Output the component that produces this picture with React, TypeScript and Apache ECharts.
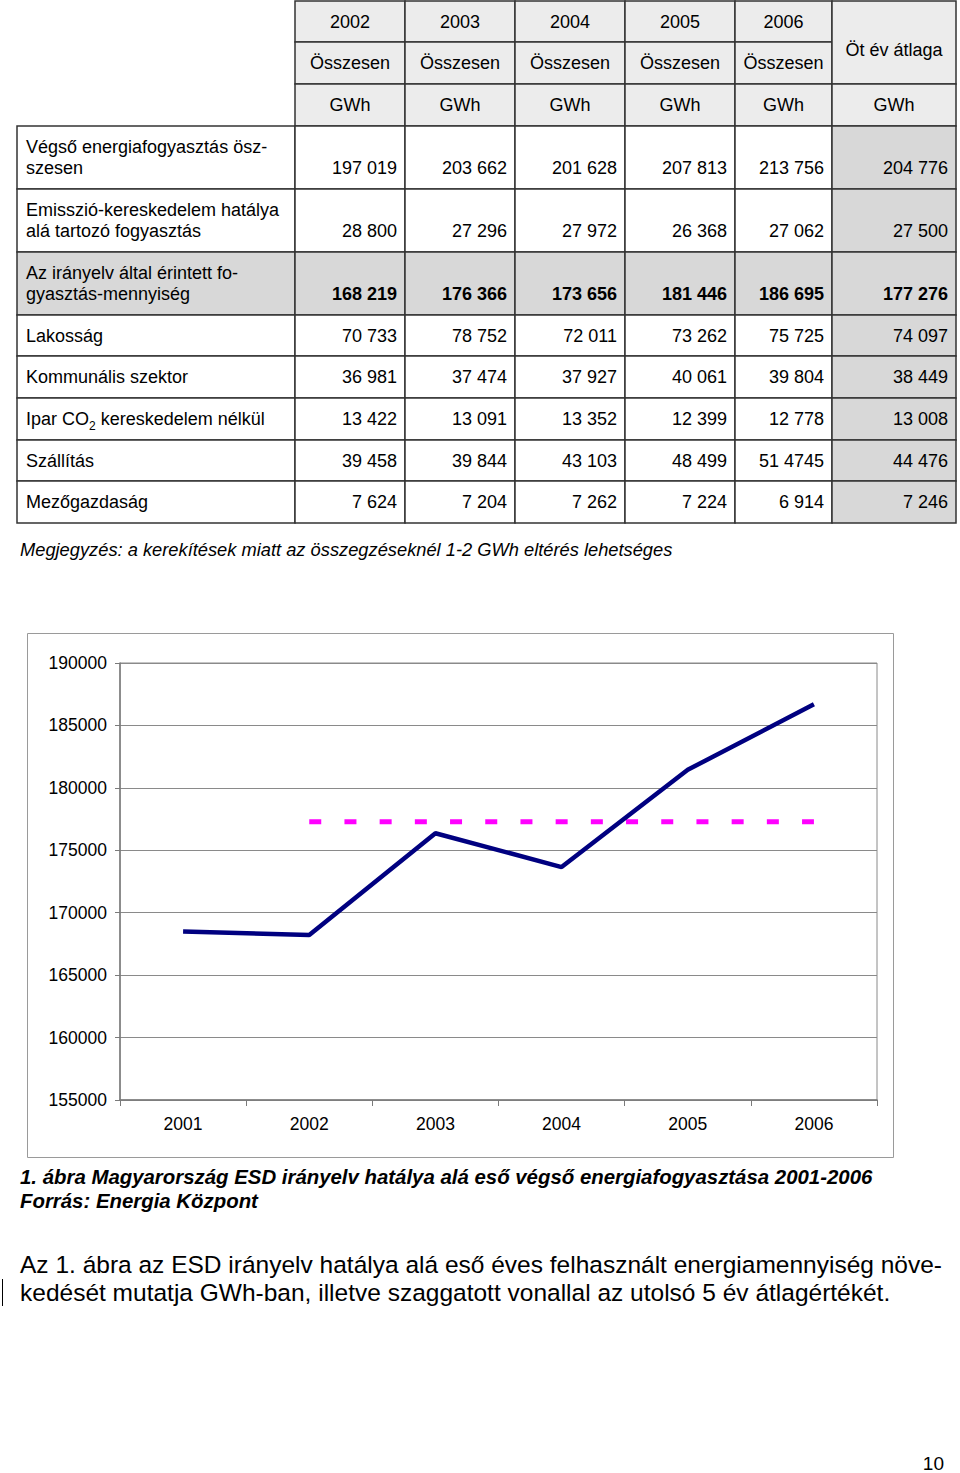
import React, { useEffect, useRef } from 'react';
import * as echarts from 'echarts';

// ---------- DATA ----------
const tableYears = ['2002', '2003', '2004', '2005', '2006'];
const headerTotal = 'Összesen';
const headerUnit = 'GWh';
const averageHeader = 'Öt év átlaga';

const rowLabels: string[][] = [
  ['Végső energiafogyasztás ösz-', 'szesen'],
  ['Emisszió-kereskedelem hatálya', 'alá tartozó fogyasztás'],
  ['Az irányelv által érintett fo-', 'gyasztás-mennyiség'],
  ['Lakosság'],
  ['Kommunális szektor'],
  ['Ipar CO{sub|2} kereskedelem nélkül'],
  ['Szállítás'],
  ['Mezőgazdaság'],
];

const rowValues: string[][] = [
  ['197 019', '203 662', '201 628', '207 813', '213 756', '204 776'],
  ['28 800', '27 296', '27 972', '26 368', '27 062', '27 500'],
  ['168 219', '176 366', '173 656', '181 446', '186 695', '177 276'],
  ['70 733', '78 752', '72 011', '73 262', '75 725', '74 097'],
  ['36 981', '37 474', '37 927', '40 061', '39 804', '38 449'],
  ['13 422', '13 091', '13 352', '12 399', '12 778', '13 008'],
  ['39 458', '39 844', '43 103', '48 499', '51 4745', '44 476'],
  ['7 624', '7 204', '7 262', '7 224', '6 914', '7 246'],
];
const highlightedRow = 2;

const noteText = 'Megjegyzés: a kerekítések miatt az összegzéseknél 1-2 GWh eltérés lehetséges';

const chartYears = ['2001', '2002', '2003', '2004', '2005', '2006'];
const consumption = [168500, 168219, 176366, 173656, 181446, 186695];
const fiveYearAverage = [null, 177276, 177276, 177276, 177276, 177276];

const captionLines = [
  '1. ábra Magyarország ESD irányelv hatálya alá eső végső energiafogyasztása 2001-2006',
  'Forrás: Energia Központ',
];
const paragraphLines = [
  'Az 1. ábra az ESD irányelv hatálya alá eső éves felhasznált energiamennyiség növe-',
  'kedését mutatja GWh-ban, illetve szaggatott vonallal az utolsó 5 év átlagértékét.',
];
const pageNumber = '10';

// ---------- LAYOUT ----------
const FONT = '"Liberation Sans", Arial, Helvetica, sans-serif';
const colX = [17, 295, 405, 515, 625, 735, 832, 956];
const headerY = [1, 42, 84, 126];
const rowY = [126, 189, 252, 315, 356, 398, 440, 481, 523];
const BORDER = '#333333';
const HEADER_BG = '#ececec';
const GRAY_BG = '#d8d8d8';

function buildTable(): any[] {
  const els: any[] = [];
  const cell = (x0: number, y0: number, x1: number, y1: number, fill: string) => {
    els.push({
      type: 'rect',
      shape: { x: x0, y: y0, width: x1 - x0, height: y1 - y0 },
      style: { fill, stroke: BORDER, lineWidth: 1.5 },
      silent: true,
    });
  };
  const txt = (text: string, x: number, y: number, align: string, opts: any = {}) => {
    els.push({
      type: 'text',
      x,
      y,
      silent: true,
      z: 10,
      style: {
        text,
        fill: '#000',
        fontSize: 18,
        fontFamily: FONT,
        align,
        verticalAlign: 'middle',
        ...opts,
      },
    });
  };

  // header
  tableYears.forEach((yr, i) => {
    const x0 = colX[i + 1];
    const x1 = colX[i + 2];
    const cx = (x0 + x1) / 2;
    cell(x0, headerY[0], x1, headerY[1], HEADER_BG);
    cell(x0, headerY[1], x1, headerY[2], HEADER_BG);
    cell(x0, headerY[2], x1, headerY[3], HEADER_BG);
    txt(yr, cx, (headerY[0] + headerY[1]) / 2 + 0.5, 'center');
    txt(headerTotal, cx, (headerY[1] + headerY[2]) / 2, 'center');
    txt(headerUnit, cx, (headerY[2] + headerY[3]) / 2, 'center');
  });
  {
    const x0 = colX[6];
    const x1 = colX[7];
    const cx = (x0 + x1) / 2;
    cell(x0, headerY[0], x1, headerY[2], HEADER_BG);
    cell(x0, headerY[2], x1, headerY[3], HEADER_BG);
    txt(averageHeader, cx, 50, 'center');
    txt(headerUnit, cx, (headerY[2] + headerY[3]) / 2, 'center');
  }

  // body
  rowLabels.forEach((lines, r) => {
    const y0 = rowY[r];
    const y1 = rowY[r + 1];
    const rowFill = r === highlightedRow ? GRAY_BG : '#ffffff';
    cell(colX[0], y0, colX[1], y1, rowFill);
    for (let c = 0; c < 6; c++) {
      const fill = c === 5 || r === highlightedRow ? GRAY_BG : '#ffffff';
      cell(colX[c + 1], y0, colX[c + 2], y1, fill);
    }
    const two = lines.length > 1;
    const valY = two ? y0 + 42 : (y0 + y1) / 2;
    if (two) {
      txt(lines[0], 26, y0 + 21, 'left');
      txt(lines[1], 26, y0 + 42, 'left');
    } else {
      txt(lines[0], 26, valY, 'left', {
        rich: {
          sub: { fontSize: 12, fontFamily: FONT, lineHeight: 12, verticalAlign: 'bottom', padding: [0, 0, -4, 0] },
        },
      });
    }
    rowValues[r].forEach((v, c) => {
      txt(v, colX[c + 2] - 8, valY, 'right', r === highlightedRow ? { fontWeight: 'bold' } : {});
    });
  });

  // note
  txt(noteText, 20, 549, 'left', { fontStyle: 'italic', fontSize: 18.3 });
  return els;
}

function buildTexts(): any[] {
  const els: any[] = [];
  // chart frame
  els.push({
    type: 'rect',
    shape: { x: 27.5, y: 633.5, width: 866, height: 524 },
    style: { fill: 'none', stroke: '#9a9a9a', lineWidth: 1 },
    silent: true,
  });
  captionLines.forEach((t, i) => {
    els.push({
      type: 'text',
      x: 20,
      y: 1177 + i * 24,
      style: {
        text: t,
        fill: '#000',
        fontSize: 20.4,
        fontFamily: FONT,
        fontWeight: 'bold',
        fontStyle: 'italic',
        align: 'left',
        verticalAlign: 'middle',
      },
    });
  });
  paragraphLines.forEach((t, i) => {
    els.push({
      type: 'text',
      x: 20,
      y: 1264 + i * 28,
      style: {
        text: t,
        fill: '#000',
        fontSize: 24.5,
        fontFamily: FONT,
        align: 'left',
        verticalAlign: 'middle',
      },
    });
  });
  els.push({
    type: 'line',
    shape: { x1: 2.5, y1: 1279, x2: 2.5, y2: 1306 },
    style: { stroke: '#000', lineWidth: 1 },
  });
  els.push({
    type: 'text',
    x: 944,
    y: 1463,
    style: {
      text: pageNumber,
      fill: '#000',
      fontSize: 19,
      fontFamily: FONT,
      align: 'right',
      verticalAlign: 'middle',
    },
  });
  return els;
}

export default function App() {
  const ref = useRef<HTMLDivElement>(null);
  useEffect(() => {
    if (!ref.current) return;
    const chart = echarts.init(ref.current, undefined, { renderer: 'svg' });
    chart.setOption({
      animation: false,
      backgroundColor: '#ffffff',
      textStyle: { fontFamily: FONT },
      grid: {
        left: 120,
        top: 663,
        right: 960 - 877,
        bottom: 1473 - 1100,
        show: true,
        backgroundColor: '#ffffff',
        borderColor: '#8a8a8a',
        borderWidth: 1,
        containLabel: false,
      },
      xAxis: {
        type: 'category',
        data: chartYears,
        boundaryGap: true,
        axisLine: { lineStyle: { color: '#7a7a7a', width: 1.5 } },
        axisTick: { show: true, length: 6, lineStyle: { color: '#7a7a7a' } },
        axisLabel: { color: '#000', fontSize: 17.5, margin: 15, fontFamily: FONT },
      },
      yAxis: {
        type: 'value',
        min: 155000,
        max: 190000,
        interval: 5000,
        axisLine: { show: true, lineStyle: { color: '#7a7a7a', width: 1.5 } },
        axisTick: { show: true, length: 5, lineStyle: { color: '#7a7a7a' } },
        axisLabel: {
          color: '#000',
          fontSize: 17.5,
          margin: 13,
          fontFamily: FONT,
          formatter: (v: number) => String(v),
        },
        splitLine: { show: true, lineStyle: { color: '#8a8a8a', width: 1 } },
      },
      series: [
        {
          type: 'line',
          data: consumption,
          symbol: 'none',
          lineStyle: { color: '#000080', width: 4.5 },
          z: 3,
        },
        {
          type: 'line',
          data: fiveYearAverage,
          symbol: 'none',
          connectNulls: false,
          lineStyle: { color: '#ff00ff', width: 5, type: [12, 23.2], cap: 'butt' },
          z: 2,
        },
      ],
      graphic: [...buildTable(), ...buildTexts()],
    });
    return () => chart.dispose();
  }, []);
  return (
    <div
      ref={ref}
      style={{ position: 'absolute', left: 0, top: 0, width: 960, height: 1473, background: '#fff' }}
    />
  );
}
